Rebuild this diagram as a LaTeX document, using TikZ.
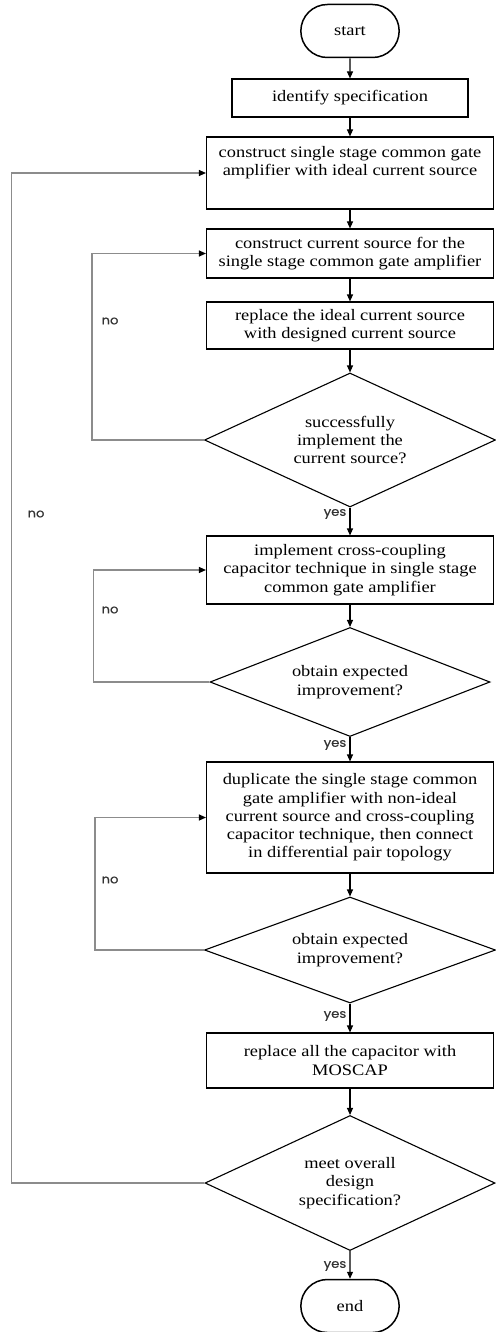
\documentclass[tikz,border=0pt]{standalone}
\usepackage{fontspec}
\setmainfont{Liberation Serif}[FakeStretch=1.15]
\newfontfamily\labelfont{Poppins}[FakeStretch=1.1,FakeBold=0.5]
\usetikzlibrary{shapes.geometric,shapes.misc,arrows.meta}

\tikzset{
  boxtext/.style={font=\fontsize{16}{18.3}\selectfont},
  stepbox/.style={boxtext, draw, line width=1.1pt, align=center, minimum width=287pt, inner sep=0pt},
  endbox/.style={boxtext, draw, line width=1.5pt, rounded rectangle, minimum width=105pt, minimum height=53pt},
  testbox/.style={boxtext, draw, line width=1.1pt, diamond, aspect=2.2, align=center, inner sep=0pt},
  flow/.style={line width=1.1pt, -{Triangle[length=7pt,width=6pt]}},
  backflow/.style={line width=1.1pt, color=black!45, -{Triangle[length=7pt,width=6pt,color=black]}},
  answer/.style={font=\labelfont\fontsize{12}{13}\selectfont, text=black!80, inner sep=0pt}
}

\begin{document}
\begin{tikzpicture}[x=1pt, y=-1pt]
\useasboundingbox (0,0) rectangle (495,1332);

% main column
\node [endbox] (start) at (350,31) {start};
\node [stepbox, minimum width=236pt, minimum height=38pt] (spec) at (350,98) {identify specification};
\node [stepbox, minimum height=72pt] (amp) at (350,173) {construct single stage common gate\\amplifier with ideal current source\\ \strut};
\node [stepbox, minimum height=49pt] (source) at (350,253.5) {construct current source for the\\single stage common gate amplifier};
\node [stepbox, minimum height=47pt] (swap) at (350,325.5) {replace the ideal current source\\with designed current source};
\node [testbox, minimum width=291pt, minimum height=134pt] (okSource) at (350,440) {successfully\\implement the\\current source?};
\node [stepbox, minimum height=68pt] (cross) at (350,570) {implement cross-coupling\\capacitor technique in single stage\\common gate amplifier};
\node [testbox, minimum width=280pt, minimum height=109pt] (okCross) at (350,682) {obtain expected\\improvement?};
\node [stepbox, minimum height=111pt] (pair) at (350,817.5) {duplicate the single stage common\\gate amplifier with non-ideal\\current source and cross-coupling\\capacitor technique, then connect\\in differential pair topology};
\node [testbox, minimum width=291pt, minimum height=106pt] (okPair) at (350,950) {obtain expected\\improvement?};
\node [stepbox, minimum height=55pt] (moscap) at (350,1060.5) {replace all the capacitor with\\MOSCAP};
\node [testbox, minimum width=290pt, minimum height=135pt] (okSpec) at (350,1183) {meet overall\\design\\specification?};
\node [endbox] (end) at (350,1306) {end};

% forward arrows
\draw [flow] (start) -- (spec);
\draw [flow] (spec) -- (amp);
\draw [flow] (amp) -- (source);
\draw [flow] (source) -- (swap);
\draw [flow] (swap) -- (okSource);
\draw [flow] (okSource) -- (cross);
\draw [flow] (cross) -- (okCross);
\draw [flow] (okCross) -- (pair);
\draw [flow] (pair) -- (okPair);
\draw [flow] (okPair) -- (moscap);
\draw [flow] (moscap) -- (okSpec);
\draw [flow] (okSpec) -- (end);

% loops back
\draw [backflow] (okSource.west) -- ++(-112,0) |- (source.west);
\draw [backflow] (okCross.west) -- ++(-116,0) |- (cross.west);
\draw [backflow] (okPair.west) -- ++(-109,0) |- (pair.west);
\draw [backflow] (okSpec.west) -- ++(-193,0) |- (amp.west);

% answers
\node [answer] (noSource) at (110,321) {no};
\node [answer] (noSpec) at (36,514) {no};
\node [answer] (noCross) at (110,610) {no};
\node [answer] (noPair) at (110,880) {no};
\node [answer] (yesSource) at (335,514) {yes};
\node [answer] (yesCross) at (335,745) {yes};
\node [answer] (yesPair) at (335,1016) {yes};
\node [answer] (yesSpec) at (335,1266) {yes};
\end{tikzpicture}
\end{document}
